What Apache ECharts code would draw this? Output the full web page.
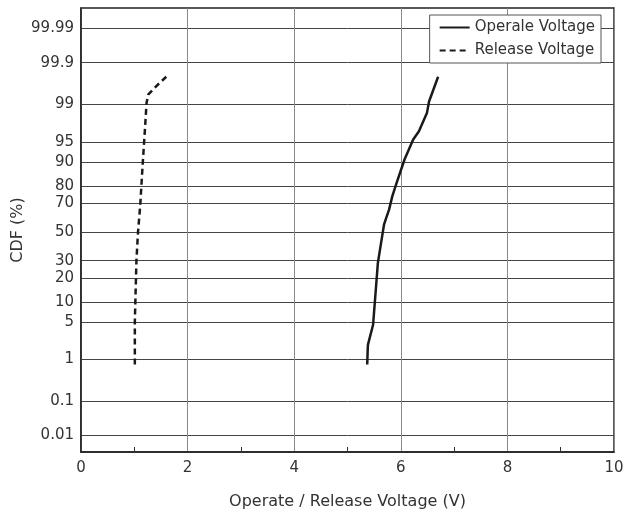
<!DOCTYPE html>
<html>
<head>
<meta charset="utf-8">
<script src="https://cdn.jsdelivr.net/npm/echarts@6/dist/echarts.min.js"></script>
<style>
  html, body { margin: 0; padding: 0; background: #fff; }
  #chart { width: 626px; height: 520px; }
</style>
</head>
<body>
<div id="chart"></div>
<script>
// probability-paper ticks (%)
var cdfTicks = [0.01, 0.1, 1, 5, 10, 20, 30, 50, 70, 80, 90, 95, 99, 99.9, 99.99];

var operateVoltage = [5.37, 5.38, 5.385, 5.48, 5.57, 5.685, 5.72, 5.78, 5.84, 5.92, 6.07, 6.23, 6.34, 6.49, 6.53, 6.70];
var operateCdf     = [0.77, 1.7, 2.0, 4.5, 28.6, 55.3, 59.4, 65.8, 74.2, 81.4, 90.7, 95.4, 96.7, 98.5, 99.14, 99.77];

var releaseVoltage = [1.01, 1.01, 1.04, 1.07, 1.11, 1.16, 1.20, 1.23, 1.26, 1.42, 1.60];
var releaseCdf     = [0.77, 5, 30, 50, 68, 90, 97, 99.07, 99.39, 99.62, 99.77];

// inverse normal cdf (Acklam) -> maps % onto the normal probability scale
function probit(pct) {
  var p = pct / 100;
  var a = [-3.969683028665376e+01, 2.209460984245205e+02, -2.759285104469687e+02, 1.383577518672690e+02, -3.066479806614716e+01, 2.506628277459239e+00];
  var b = [-5.447609879822406e+01, 1.615858368580409e+02, -1.556989798598866e+02, 6.680131188771972e+01, -1.328068155288572e+01];
  var c = [-7.784894002430293e-03, -3.223964580411365e-01, -2.400758277161838e+00, -2.549732539343734e+00, 4.374664141464968e+00, 2.938163982698783e+00];
  var d = [7.784695709041462e-03, 3.224671290700398e-01, 2.445134137142996e+00, 3.754408661907416e+00];
  var plow = 0.02425, q, r;
  if (p < plow) {
    q = Math.sqrt(-2 * Math.log(p));
    return (((((c[0]*q+c[1])*q+c[2])*q+c[3])*q+c[4])*q+c[5]) / ((((d[0]*q+d[1])*q+d[2])*q+d[3])*q+1);
  }
  if (p <= 1 - plow) {
    q = p - 0.5; r = q * q;
    return (((((a[0]*r+a[1])*r+a[2])*r+a[3])*r+a[4])*r+a[5])*q / (((((b[0]*r+b[1])*r+b[2])*r+b[3])*r+b[4])*r+1);
  }
  q = Math.sqrt(-2 * Math.log(1 - p));
  return -(((((c[0]*q+c[1])*q+c[2])*q+c[3])*q+c[4])*q+c[5]) / ((((d[0]*q+d[1])*q+d[2])*q+d[3])*q+1);
}

function pairs(xs, ps) {
  return xs.map(function (x, i) { return [x, probit(ps[i])]; });
}

var zTicks = cdfTicks.map(probit);
var font = '"DejaVu Sans", sans-serif';

var chart = echarts.init(document.getElementById('chart'));
chart.setOption({
  animation: false,
  textStyle: { fontFamily: font },
  grid: {
    left: 81, right: 12, top: 8, bottom: 68,
    outerBoundsMode: 'none',
    containLabel: false,
    show: true, borderColor: '#222', borderWidth: 1.5, backgroundColor: 'transparent'
  },
  legend: {
    orient: 'vertical',
    right: 25, top: 15,
    padding: [5, 6, 5, 9],
    itemGap: 8,
    itemWidth: 30, itemHeight: 12,
    backgroundColor: '#fff',
    borderColor: '#555', borderWidth: 1, borderRadius: 0,
    itemStyle: { color: 'transparent', borderColor: 'transparent', borderWidth: 0, opacity: 0 },
    textStyle: { fontSize: 15, color: '#333', fontFamily: font },
    data: ['Operale Voltage', 'Release Voltage']
  },
  xAxis: {
    type: 'value',
    min: 0, max: 10, interval: 2,
    name: 'Operate / Release Voltage (V)',
    nameLocation: 'middle', nameGap: 42,
    nameTextStyle: { fontSize: 16, color: '#333' },
    axisLine: { onZero: false, lineStyle: { color: '#222', width: 1.5 } },
    axisTick: { show: false, inside: true },
    minorTick: { show: true, splitNumber: 2, length: 5, lineStyle: { color: '#333', width: 1 } },
    axisLabel: { fontSize: 15, color: '#333', margin: 9 },
    splitLine: { show: true, lineStyle: { color: '#888', width: 1 } }
  },
  yAxis: {
    type: 'value',
    min: -4.02, max: 4.09,
    name: 'CDF (%)',
    nameLocation: 'middle', nameGap: 55,
    nameMoveOverlap: false,
    nameTextStyle: { fontSize: 16, color: '#333' },
    axisLine: { show: true, onZero: false, lineStyle: { color: '#222', width: 1.5 } },
    axisTick: { show: false, customValues: zTicks },
    axisLabel: {
      fontSize: 15, color: '#333', margin: 7,
      customValues: zTicks,
      formatter: function (v) {
        for (var i = 0; i < zTicks.length; i++) {
          if (Math.abs(zTicks[i] - v) < 1e-6) return String(cdfTicks[i]);
        }
        return '';
      }
    },
    splitLine: { show: true, lineStyle: { color: '#444', width: 1 } }
  },
  series: [
    {
      name: 'Operale Voltage',
      type: 'line',
      data: pairs(operateVoltage, operateCdf),
      symbol: 'none',
      lineStyle: { color: '#1a1a1a', width: 2.5 },
      itemStyle: { color: '#1a1a1a' }
    },
    {
      name: 'Release Voltage',
      type: 'line',
      data: pairs(releaseVoltage, releaseCdf),
      symbol: 'none',
      lineStyle: { color: '#1a1a1a', width: 2.5, type: [6, 4] },
      itemStyle: { color: '#1a1a1a' }
    }
  ]
});
</script>
</body>
</html>
